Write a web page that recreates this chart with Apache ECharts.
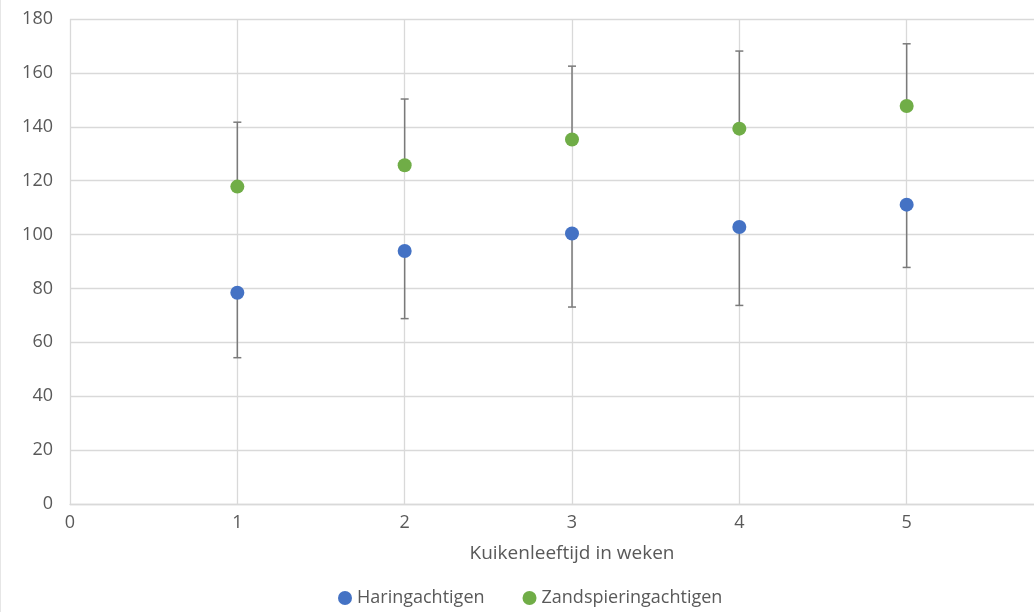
<!DOCTYPE html>
<html>
<head>
<meta charset="utf-8">
<script src="https://cdn.jsdelivr.net/npm/echarts@6/dist/echarts.min.js"></script>
<style>
html,body{margin:0;padding:0;background:#fff;}
#chart{width:1034px;height:612px;}
</style>
</head>
<body>
<div id="chart"></div>
<script>
var weeks = [1, 2, 3, 4, 5];
var haringMean = [78.4, 93.9, 100.4, 102.8, 111.1];
var haringLow = [54.3, 68.8, 73.1, 73.7, 87.8];
var zandMean = [117.8, 125.7, 135.3, 139.3, 147.7];
var zandHigh = [141.7, 150.3, 162.5, 168.1, 170.8];
var seriesNames = ['Haringachtigen', 'Zandspieringachtigen'];
var xAxisTitle = 'Kuikenleeftijd in weken';

var FONT = '"Open Sans", "Noto Sans", sans-serif';
var BLUE = '#4472c4';
var GREEN = '#70ad47';
var BAR = '#7a7a7a';
var TXT = '#595959';

function errData(means, ends) {
  return weeks.map(function (w, i) { return [w, means[i], ends[i]]; });
}
function errRender(params, api) {
  var x = api.value(0);
  var p1 = api.coord([x, api.value(1)]);
  var p2 = api.coord([x, api.value(2)]);
  var half = 4;
  var st = { stroke: BAR, lineWidth: 1.5 };
  return {
    type: 'group',
    children: [
      { type: 'line', shape: { x1: p1[0], y1: p1[1], x2: p2[0], y2: p2[1] }, style: st },
      { type: 'line', shape: { x1: p2[0] - half, y1: p2[1], x2: p2[0] + half, y2: p2[1] }, style: st }
    ]
  };
}

var chart = echarts.init(document.getElementById('chart'));
chart.setOption({
  animation: false,
  backgroundColor: '#fff',
  textStyle: { fontFamily: FONT },
  grid: { left: 70, top: 19, width: 1004, height: 485, containLabel: false, outerBoundsMode: 'none' },
  graphic: [{
    type: 'line', shape: { x1: 0.5, y1: 0, x2: 0.5, y2: 612 },
    style: { stroke: '#e6e6e6', lineWidth: 1 }, silent: true
  }],
  xAxis: {
    type: 'value', min: 0, max: 6, interval: 1,
    name: xAxisTitle, nameLocation: 'middle', nameGap: 40,
    nameTextStyle: { fontSize: 19, color: TXT, fontFamily: FONT },
    axisLine: { show: true, lineStyle: { color: '#d9d9d9', width: 1.3 } },
    axisTick: { show: false },
    axisLabel: { fontSize: 18, color: TXT, margin: 10, fontFamily: FONT },
    splitLine: { show: true, lineStyle: { color: '#d9d9d9', width: 1.3 } }
  },
  yAxis: {
    type: 'value', min: 0, max: 180, interval: 20,
    axisLine: { show: false },
    axisTick: { show: false },
    axisLabel: { fontSize: 18, color: TXT, margin: 17, fontFamily: FONT },
    splitLine: { show: true, lineStyle: { color: '#d9d9d9', width: 1.3 } }
  },
  legend: {
    bottom: 0, left: 333,
    itemWidth: 14, itemHeight: 14, itemGap: 38,
    icon: 'circle',
    textStyle: { fontSize: 18, color: TXT, fontFamily: FONT },
    data: seriesNames
  },
  series: [
    { type: 'custom', name: 'errH', renderItem: errRender, data: errData(haringMean, haringLow), z: 1, silent: true, encode: { x: 0, y: [1, 2] } },
    { type: 'custom', name: 'errZ', renderItem: errRender, data: errData(zandMean, zandHigh), z: 1, silent: true, encode: { x: 0, y: [1, 2] } },
    { type: 'scatter', name: seriesNames[0], symbolSize: 14, itemStyle: { color: BLUE, opacity: 1 }, z: 3,
      data: weeks.map(function (w, i) { return [w, haringMean[i]]; }) },
    { type: 'scatter', name: seriesNames[1], symbolSize: 14, itemStyle: { color: GREEN, opacity: 1 }, z: 3,
      data: weeks.map(function (w, i) { return [w, zandMean[i]]; }) }
  ]
});
</script>
</body>
</html>
